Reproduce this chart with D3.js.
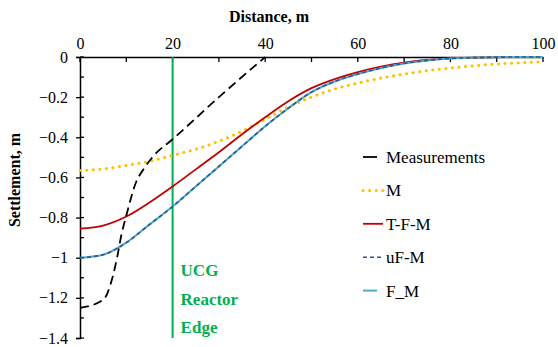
<!DOCTYPE html>
<html>
<head>
<meta charset="utf-8">
<script src="https://cdn.jsdelivr.net/npm/d3@7"></script>
<style>
  body { margin: 0; background: #fff; }
</style>
</head>
<body>
<div id="chart"></div>
<script>
// data
var xTicks = [0, 20, 40, 60, 80, 100];
var yTicks = [0, -0.2, -0.4, -0.6, -0.8, -1, -1.2, -1.4];

var measX = [0, 5, 7, 8, 9, 10, 12, 14, 16, 20, 30, 40];
var measY = [-1.25, -1.21, -1.1, -1.0, -0.88, -0.79, -0.63, -0.55, -0.49, -0.41, -0.2, 0];

var modelX = [0, 5, 10, 15, 20, 25, 30, 35, 40, 45, 50, 55, 60, 65, 70, 75, 80, 85, 90, 95, 100];
var mY   = [-0.565, -0.558, -0.54, -0.52, -0.49, -0.46, -0.42, -0.37, -0.31, -0.25, -0.2, -0.16, -0.13, -0.105, -0.085, -0.068, -0.055, -0.044, -0.035, -0.029, -0.024];
var tfmY = [-0.855, -0.84, -0.795, -0.725, -0.645, -0.56, -0.475, -0.385, -0.3, -0.22, -0.155, -0.11, -0.075, -0.048, -0.028, -0.015, -0.007, -0.003, -0.001, 0, 0];
var ufmY = [-1.0, -0.985, -0.925, -0.835, -0.745, -0.645, -0.545, -0.445, -0.345, -0.255, -0.175, -0.122, -0.085, -0.055, -0.032, -0.017, -0.007, -0.003, -0.001, 0, 0];
var fmY  = [-1.0, -0.985, -0.925, -0.835, -0.745, -0.645, -0.545, -0.445, -0.345, -0.255, -0.175, -0.122, -0.085, -0.055, -0.032, -0.017, -0.007, -0.003, -0.001, 0, 0];

var edgeX = 20;

var width = 558, height = 347;
var margin = {top: 57, right: 15, bottom: 9, left: 80};
var serif = "'Liberation Serif', 'Times New Roman', Times, serif";

var svg = d3.select("#chart").append("svg")
    .attr("width", width)
    .attr("height", height)
    .attr("font-family", serif);

var x = d3.scaleLinear().domain([0, 100]).range([margin.left, width - margin.right]);
var y = d3.scaleLinear().domain([-1.4, 0]).range([height - margin.bottom, margin.top]);

// top axis
var xAxis = svg.append("g").attr("transform", "translate(0," + y(0) + ")")
    .call(d3.axisTop(x).tickValues(xTicks).tickSize(0).tickPadding(8).tickFormat(d3.format("d")))
    .attr("font-family", serif);
xAxis.select(".domain").attr("stroke", "#000").attr("stroke-width", 1.5);
xAxis.selectAll("text").attr("font-size", 16).attr("fill", "#000");
svg.append("g").selectAll("line").data(d3.range(0, 101, 10)).enter().append("line")
    .attr("x1", function(d){ return x(d); }).attr("x2", function(d){ return x(d); })
    .attr("y1", y(0)).attr("y2", y(0) + 5)
    .attr("stroke", "#000").attr("stroke-width", 1.3);

// left axis
var yAxis = svg.append("g").attr("transform", "translate(" + x(0) + ",0)")
    .call(d3.axisLeft(y).tickValues(yTicks).tickSize(4).tickPadding(8).tickFormat(function(d){ return d3.format("")(+d.toFixed(1)); }))
    .attr("font-family", serif);
yAxis.select(".domain").attr("stroke", "#000").attr("stroke-width", 1.5);
yAxis.selectAll(".tick line").attr("stroke", "#000").attr("stroke-width", 1.3);
yAxis.selectAll("text").attr("font-size", 16).attr("fill", "#000");
svg.append("g").selectAll("line").data(d3.range(0, 15)).enter().append("line")
    .attr("x1", x(0)).attr("x2", x(0) + 4)
    .attr("y1", function(d){ return y(-d / 10); }).attr("y2", function(d){ return y(-d / 10); })
    .attr("stroke", "#000").attr("stroke-width", 1.3);

// axis titles
svg.append("text").attr("x", 269).attr("y", 22).attr("text-anchor", "middle")
    .attr("font-size", 16).attr("font-weight", "bold").text("Distance, m");
svg.append("text").attr("transform", "translate(20,180) rotate(-90)").attr("text-anchor", "middle")
    .attr("font-size", 16).attr("font-weight", "bold").text("Settlement, m");

// reactor edge
svg.append("line")
    .attr("x1", x(edgeX)).attr("x2", x(edgeX))
    .attr("y1", y(0)).attr("y2", y(-1.4))
    .attr("stroke", "#00b050").attr("stroke-width", 2);
var edgeLabel = ["UCG", "Reactor", "Edge"];
svg.append("g").selectAll("text").data(edgeLabel).enter().append("text")
    .attr("x", x(edgeX) + 8)
    .attr("y", function(d, i){ return 276 + i * 28.5; })
    .attr("font-size", 17).attr("font-weight", "bold").attr("fill", "#00b050")
    .text(function(d){ return d; });

var line = d3.line().curve(d3.curveMonotoneX)
    .x(function(d){ return x(d[0]); })
    .y(function(d){ return y(d[1]); });

function pairs(xs, ys) { return xs.map(function(v, i){ return [v, ys[i]]; }); }

var series = [
  {name: "M",     pts: pairs(modelX, mY),   color: "#ffc000", width: 3,   dash: "0.1 6.5", cap: "round"},
  {name: "T-F-M", pts: pairs(modelX, tfmY), color: "#c00000", width: 1.8, dash: null,      cap: "butt"},
  {name: "F_M",   pts: pairs(modelX, fmY),  color: "#4bacc6", width: 2,   dash: null,      cap: "butt"},
  {name: "uF-M",  pts: pairs(modelX, ufmY), color: "#2f5597", width: 1.6, dash: "4 3",     cap: "butt"},
  {name: "Measurements", pts: pairs(measX, measY), color: "#000", width: 1.8, dash: "9 5", cap: "butt"}
];

svg.append("g").selectAll("path").data(series).enter().append("path")
    .attr("d", function(d){ return line(d.pts); })
    .attr("fill", "none")
    .attr("stroke", function(d){ return d.color; })
    .attr("stroke-width", function(d){ return d.width; })
    .attr("stroke-dasharray", function(d){ return d.dash; })
    .attr("stroke-linecap", function(d){ return d.cap; });

// legend
var legendOrder = ["Measurements", "M", "T-F-M", "uF-M", "F_M"];
var legendLen = {"Measurements": 14, "M": 20, "T-F-M": 20, "uF-M": 20, "F_M": 14};
var lg = svg.append("g").selectAll("g").data(legendOrder).enter().append("g")
    .attr("transform", function(d, i){ return "translate(363," + (157 + i * 33.4) + ")"; });
lg.append("line")
    .attr("x1", 0).attr("x2", function(d){ return legendLen[d]; })
    .attr("y1", 0).attr("y2", 0)
    .each(function(d){
      var s = series.filter(function(e){ return e.name === d; })[0];
      d3.select(this).attr("stroke", s.color).attr("stroke-width", s.width)
        .attr("stroke-dasharray", d === "Measurements" ? null : s.dash)
        .attr("stroke-linecap", s.cap);
    });
lg.append("text").attr("x", 23).attr("y", 6)
    .attr("font-size", 17).text(function(d){ return d; });
</script>
</body>
</html>
